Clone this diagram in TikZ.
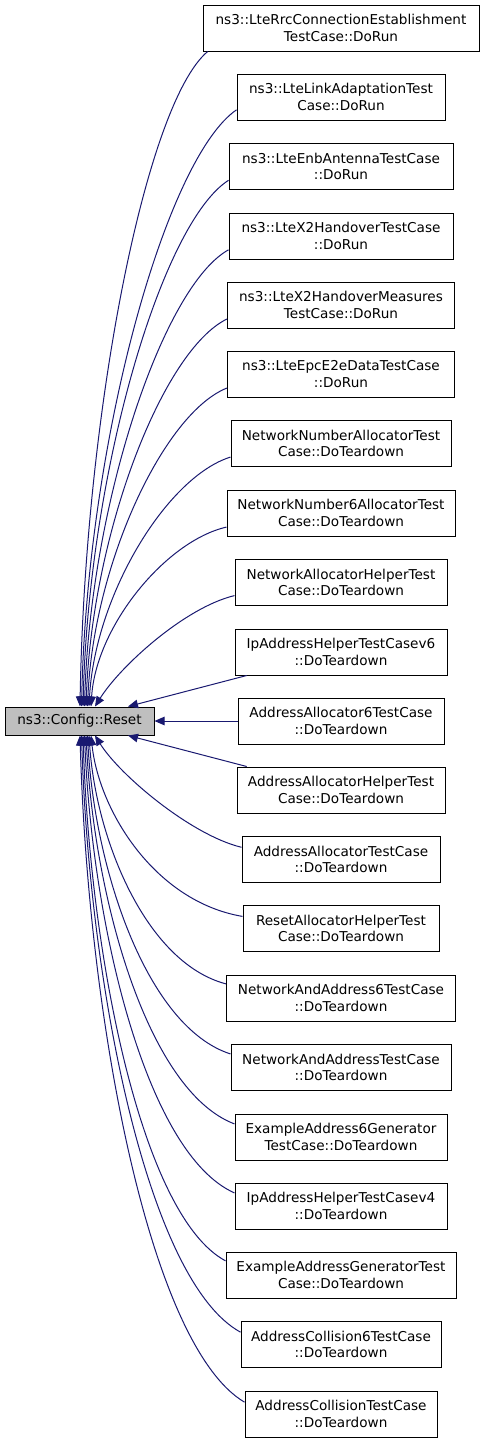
\documentclass[tikz,border=0pt]{standalone}
\usepackage{fontspec}
\setmainfont{DejaVu Sans}
\usetikzlibrary{arrows.meta}
\definecolor{edgeblue}{HTML}{191970}
\definecolor{resetgray}{HTML}{BFBFBF}
\tikzset{
	box/.style={draw=black, line width=1pt, fill=white, align=center, inner sep=0pt,
		minimum height=46pt, font=\fontsize{13.6}{16.7}\selectfont},
	call/.style={draw=edgeblue, line width=1pt, -{Triangle[length=10pt,width=8.5pt]}, edgeblue},
}
\begin{document}
\begin{tikzpicture}[x=1pt,y=-1pt]
	\useasboundingbox (0,0) rectangle (485,1443);
	% the function everyone calls
	\node[box, fill=resetgray, minimum width=149pt, minimum height=28pt] (reset) at (79.5,721) {ns3::Config::Reset};
	% callers
	\node[box, minimum width=276pt] (b1) at (341,28) {ns3::LteRrcConnectionEstablishment\\TestCase::DoRun};
	\node[box, minimum width=208pt] (b2) at (341,97) {ns3::LteLinkAdaptationTest\\Case::DoRun};
	\node[box, minimum width=224pt] (b3) at (341,166.5) {ns3::LteEnbAntennaTestCase\\::DoRun};
	\node[box, minimum width=224pt] (b4) at (341,236) {ns3::LteX2HandoverTestCase\\::DoRun};
	\node[box, minimum width=227pt] (b5) at (341,305) {ns3::LteX2HandoverMeasures\\TestCase::DoRun};
	\node[box, minimum width=227pt] (b6) at (341,374) {ns3::LteEpcE2eDataTestCase\\::DoRun};
	\node[box, minimum width=220pt] (b7) at (341,443.5) {NetworkNumberAllocatorTest\\Case::DoTeardown};
	\node[box, minimum width=228pt] (b8) at (341,513) {NetworkNumber6AllocatorTest\\Case::DoTeardown};
	\node[box, minimum width=212pt] (b9) at (341,582.5) {NetworkAllocatorHelperTest\\Case::DoTeardown};
	\node[box, minimum width=212pt] (b10) at (341,652) {IpAddressHelperTestCasev6\\::DoTeardown};
	\node[box, minimum width=206pt] (b11) at (341,721) {AddressAllocator6TestCase\\::DoTeardown};
	\node[box, minimum width=208pt] (b12) at (341,790) {AddressAllocatorHelperTest\\Case::DoTeardown};
	\node[box, minimum width=198pt] (b13) at (341,859.5) {AddressAllocatorTestCase\\::DoTeardown};
	\node[box, minimum width=196pt] (b14) at (341,928.5) {ResetAllocatorHelperTest\\Case::DoTeardown};
	\node[box, minimum width=229pt] (b15) at (341,998) {NetworkAndAddress6TestCase\\::DoTeardown};
	\node[box, minimum width=220pt] (b16) at (341,1067.5) {NetworkAndAddressTestCase\\::DoTeardown};
	\node[box, minimum width=212pt] (b17) at (341,1137) {ExampleAddress6Generator\\TestCase::DoTeardown};
	\node[box, minimum width=212pt] (b18) at (341,1206) {IpAddressHelperTestCasev4\\::DoTeardown};
	\node[box, minimum width=230pt] (b19) at (341,1275) {ExampleAddressGeneratorTest\\Case::DoTeardown};
	\node[box, minimum width=200pt] (b20) at (341,1344.5) {AddressCollision6TestCase\\::DoTeardown};
	\node[box, minimum width=192pt] (b21) at (341,1414) {AddressCollisionTestCase\\::DoTeardown};
	% edges from above
	\draw[call] (b1.190) .. controls +(-62,52) and +(5,-295) .. ([xshift=0.5pt]reset.north);
	\draw[call] (b2.187) .. controls +(-70,48) and +(6,-269) .. ([xshift=2pt]reset.north);
	\draw[call] (b3.187) .. controls +(-66,42) and +(6,-238) .. ([xshift=3.5pt]reset.north);
	\draw[call] (b4.187) .. controls +(-65,36) and +(6,-205) .. ([xshift=5pt]reset.north);
	\draw[call] (b5.187) .. controls +(-64,31) and +(6,-174) .. ([xshift=6.5pt]reset.north);
	\draw[call] (b6.187) .. controls +(-63,25) and +(6,-143) .. ([xshift=8pt]reset.north);
	\draw[call] (b7.187) .. controls +(-64,20) and +(6,-111) .. ([xshift=9.5pt]reset.north);
	\draw[call] (b8.187) .. controls +(-61,14) and +(5,-80) .. ([xshift=11.5pt]reset.north);
	\draw[call] (b9.187) .. controls +(-50,12) and +(25,-40) .. ([xshift=15.5pt]reset.north);
	\draw[call] (b10.194) -- ([xshift=48.5pt]reset.north);
	% straight across
	\draw[call] (b11.west) -- (reset.east);
	% edges from below
	\draw[call] (b12.166) -- ([xshift=48.5pt]reset.south);
	\draw[call] (b13.173) .. controls +(-50,-12) and +(25,40) .. ([xshift=15.5pt]reset.south);
	\draw[call] (b14.173) .. controls +(-88,-15) and +(8,75) .. ([xshift=11.5pt]reset.south);
	\draw[call] (b15.173) .. controls +(-80,-21) and +(7,104) .. ([xshift=9.5pt]reset.south);
	\draw[call] (b16.173) .. controls +(-84,-27) and +(7,133) .. ([xshift=8pt]reset.south);
	\draw[call] (b17.173) .. controls +(-87,-33) and +(8,163) .. ([xshift=6.5pt]reset.south);
	\draw[call] (b18.173) .. controls +(-88,-39) and +(8,192) .. ([xshift=5pt]reset.south);
	\draw[call] (b19.173) .. controls +(-84,-45) and +(7,221) .. ([xshift=3.5pt]reset.south);
	\draw[call] (b20.173) .. controls +(-93,-51) and +(8,252) .. ([xshift=2pt]reset.south);
	\draw[call] (b21.173) .. controls +(-96,-57) and +(8,282) .. ([xshift=0.5pt]reset.south);
\end{tikzpicture}
\end{document}
